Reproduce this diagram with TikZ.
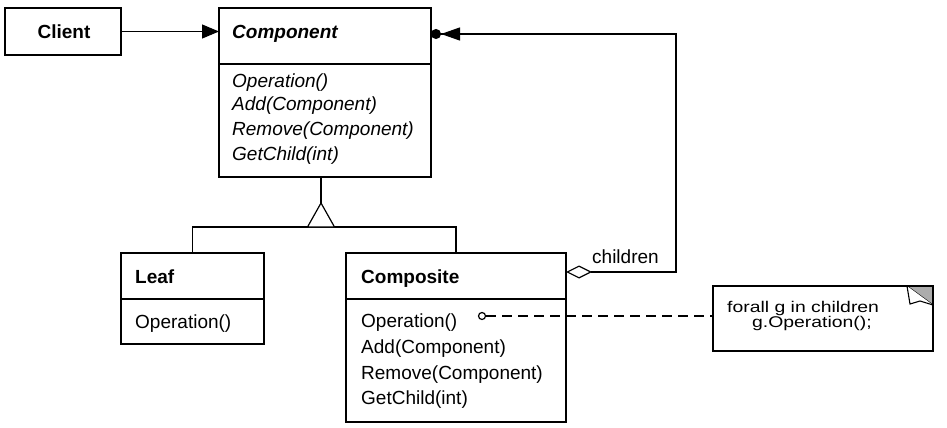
\documentclass[tikz,border=0pt]{standalone}
\usepackage{fontspec}
\setmainfont{Liberation Sans}
\newfontfamily\notefont[FakeStretch=1.25]{Liberation Sans}
\usetikzlibrary{arrows.meta}

\begin{document}
\begin{tikzpicture}[x=1pt,y=-1pt,
    box/.style={draw,line width=1.6pt,inner sep=0pt,outer sep=0pt},
    conn/.style={line width=1.2pt},
    txt/.style={anchor=base west,inner sep=0pt,font=\fontsize{19}{23}\selectfont},
    notetxt/.style={anchor=base west,inner sep=0pt,font=\notefont\fontsize{15.5}{18}\selectfont}]
        \useasboundingbox (0,0) rectangle (947,428);
        %% Classes
        \node[box,minimum width=116pt,minimum height=47pt] (client) at (63,31.5) {};
        \node[box,minimum width=212pt,minimum height=56pt] (component) at (325,36) {};
        \node[box,minimum width=212pt,minimum height=113pt] (componentops) at (325,120.5) {};
        \node[box,minimum width=143pt,minimum height=46pt] (leaf) at (192.5,276) {};
        \node[box,minimum width=143pt,minimum height=45pt] (leafops) at (192.5,321.5) {};
        \node[box,minimum width=220pt,minimum height=46pt] (composite) at (456,276) {};
        \node[box,minimum width=220pt,minimum height=123pt] (compositeops) at (456,360.5) {};
        \node[box,minimum width=220pt,minimum height=65pt] (note) at (823,318.5) {};
        %% Class texts
        \node[txt,anchor=base] (clientname) at (64,39) {\bfseries Client};
        \node[txt] (componentname) at (232,39) {\bfseries\itshape Component};
        \node[txt] (componentop1) at (232,87) {\itshape Operation()};
        \node[txt] (componentop2) at (232,110) {\itshape Add(Component)};
        \node[txt] (componentop3) at (232,135) {\itshape Remove(Component)};
        \node[txt] (componentop4) at (232,160) {\itshape GetChild(int)};
        \node[txt] (leafname) at (135,283) {\bfseries Leaf};
        \node[txt] (leafop1) at (135,328) {Operation()};
        \node[txt] (compositename) at (361,283) {\bfseries Composite};
        \node[txt] (compositeop1) at (361,327) {Operation()};
        \node[txt] (compositeop2) at (361,353) {Add(Component)};
        \node[txt] (compositeop3) at (361,379) {Remove(Component)};
        \node[txt] (compositeop4) at (361,404) {GetChild(int)};
        \node[notetxt] (noteline1) at (727,312) {forall g in children};
        \node[notetxt] (noteline2) at (752,327) {g.Operation();};
        %% Client uses Component
        \draw[conn,-{Triangle[length=17pt,width=14pt]}] (client) -- (client -| component.west);
        %% Composite holds children
        \coordinate (topturn) at (676,34);
        \coordinate (lowturn) at (676,272);
        \draw[conn,{Circle[length=10pt,width=10pt] Triangle[length=19pt,width=13pt]}-{Diamond[open,fill=white,length=26pt,width=13pt]}]
            (component.east |- topturn) -- (topturn) -- (lowturn) -- (lowturn -| composite.east);
        \node[txt] (childrenlabel) at (592,263) {children};
        %% Inheritance
        \coordinate (apex) at (321,203);
        \coordinate (base) at (321,227);
        \draw[conn] (leaf.north) |- (base) -| (composite.north);
        \draw[conn] (componentops.south -| apex) -- (apex);
        \draw[conn,fill=white] (apex) -- ++(-13.5,24) -- ++(27,0) -- cycle;
        %% Note link
        \node[circle,draw,line width=1.2pt,inner sep=0pt,minimum size=7pt,fill=white] (opdot) at (482,316) {};
        \draw[conn,dash pattern=on 10pt off 6pt] (opdot) -- (opdot -| note.west);
        %% Folded corner
        \coordinate (foldleft) at (907,286);
        \coordinate (foldright) at (933,305);
        \fill[gray!65] (foldleft) -- (note.north east) -- (foldright) -- cycle;
        \draw[line width=1.1pt] (foldleft) -- (foldright);
        \draw[line width=1.1pt,fill=white] (foldleft) -- (910,304) -- (920,301) -- (foldright);
        \draw[box] (note.north west) rectangle (note.south east);
    \end{tikzpicture}
\end{document}
